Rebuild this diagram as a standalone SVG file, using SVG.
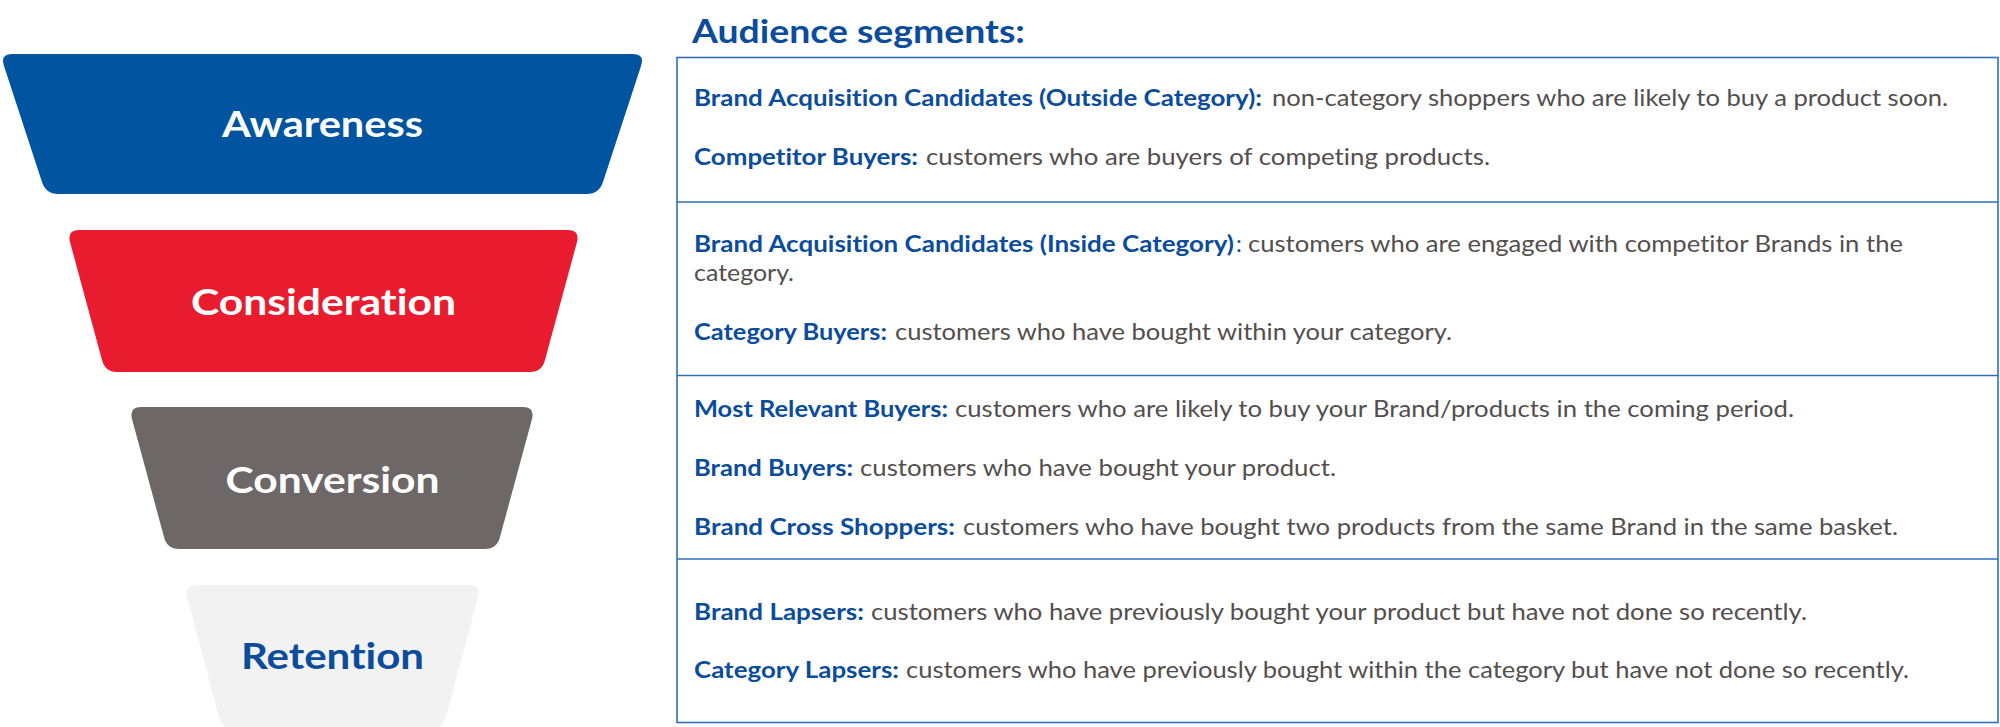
<svg xmlns="http://www.w3.org/2000/svg" width="2000" height="727" viewBox="0 0 2000 727">
<style>
text{font-variant-ligatures:none}
.lbl{font-family:Lato,"Open Sans","Liberation Sans",sans-serif;font-weight:700;font-size:37px;text-anchor:middle}
.b{font-family:Lato,"Open Sans","Liberation Sans",sans-serif;font-weight:700;font-size:23px;fill:#0b4c9c}
.r{font-family:Lato,"Open Sans","Liberation Sans",sans-serif;font-weight:400;font-size:23px;fill:#544e4e}
.rb{font-family:Lato,"Open Sans","Liberation Sans",sans-serif;font-weight:400;font-size:23px;fill:#0b4c9c}
.h{font-family:Lato,"Open Sans","Liberation Sans",sans-serif;font-weight:700;font-size:33px;fill:#0b4c9c}
.sep{stroke:#2f6fba;stroke-width:1.6;fill:none}
</style>
<rect width="2000" height="727" fill="#ffffff"/>
<g id="awareness">
<path d="M12,54 L633,54 Q645,54 641,66 L603,182 Q599,194 587,194 L58,194 Q46,194 42,182 L4,66 Q0,54 12,54 Z" fill="#0054a0"/>
<text class="lbl" x="322.5" y="137" fill="#ffffff" textLength="201" lengthAdjust="spacingAndGlyphs">Awareness</text>
</g>
<g id="consideration">
<path d="M79,230 L568,230 Q580,230 577,242 L545,360 Q542,372 530,372 L117,372 Q105,372 102,360 L70,242 Q67,230 79,230 Z" fill="#e81c2e"/>
<text class="lbl" x="323.5" y="315" fill="#ffffff" textLength="265" lengthAdjust="spacingAndGlyphs">Consideration</text>
</g>
<g id="conversion">
<path d="M141,407 L523,407 Q535,407 532,419 L500,537 Q497,549 485,549 L179,549 Q167,549 164,537 L132,419 Q129,407 141,407 Z" fill="#6e6767"/>
<text class="lbl" x="332.5" y="493" fill="#ffffff" textLength="214" lengthAdjust="spacingAndGlyphs">Conversion</text>
</g>
<g id="retention">
<path d="M196,585 L469,585 Q481,585 478,597 L446,717 Q443,729 431,729 L234,729 Q222,729 219,717 L187,597 Q184,585 196,585 Z" fill="#f2f2f2"/>
<text class="lbl" x="332.5" y="669" fill="#0b4c9c" textLength="183" lengthAdjust="spacingAndGlyphs">Retention</text>
</g>
<g id="heading">
<text class="h" x="692" y="43" textLength="333" lengthAdjust="spacingAndGlyphs">Audience segments:</text>
</g>
<g id="table-frame">
<rect class="sep" x="677" y="57.5" width="1321" height="665"/>
<line class="sep" x1="677" y1="202" x2="1998" y2="202"/>
<line class="sep" x1="677" y1="375.5" x2="1998" y2="375.5"/>
<line class="sep" x1="677" y1="559" x2="1998" y2="559"/>
</g>
<g id="row-awareness">
<text class="b" x="694" y="106" textLength="568" lengthAdjust="spacingAndGlyphs">Brand Acquisition Candidates (Outside Category):</text>
<text class="r" x="1272" y="106" textLength="676" lengthAdjust="spacingAndGlyphs">non-category shoppers who are likely to buy a product soon.</text>
<text class="b" x="694" y="165" textLength="224" lengthAdjust="spacingAndGlyphs">Competitor Buyers:</text>
<text class="r" x="926" y="165" textLength="564" lengthAdjust="spacingAndGlyphs">customers who are buyers of competing products.</text>
</g>
<g id="row-consideration">
<text class="b" x="694" y="252" textLength="540" lengthAdjust="spacingAndGlyphs">Brand Acquisition Candidates (Inside Category)</text>
<text class="rb" x="1236" y="252">:</text>
<text class="r" x="1248" y="252" textLength="655" lengthAdjust="spacingAndGlyphs">customers who are engaged with competitor Brands in the</text>
<text class="r" x="694" y="281" textLength="100" lengthAdjust="spacingAndGlyphs">category.</text>
<text class="b" x="694" y="340" textLength="193" lengthAdjust="spacingAndGlyphs">Category Buyers:</text>
<text class="r" x="895" y="340" textLength="557" lengthAdjust="spacingAndGlyphs">customers who have bought within your category.</text>
</g>
<g id="row-conversion">
<text class="b" x="694" y="417" textLength="254" lengthAdjust="spacingAndGlyphs">Most Relevant Buyers:</text>
<text class="r" x="955" y="417" textLength="839" lengthAdjust="spacingAndGlyphs">customers who are likely to buy your Brand/products in the coming period.</text>
<text class="b" x="694" y="476" textLength="159" lengthAdjust="spacingAndGlyphs">Brand Buyers:</text>
<text class="r" x="860" y="476" textLength="476" lengthAdjust="spacingAndGlyphs">customers who have bought your product.</text>
<text class="b" x="694" y="535" textLength="261" lengthAdjust="spacingAndGlyphs">Brand Cross Shoppers:</text>
<text class="r" x="963" y="535" textLength="935" lengthAdjust="spacingAndGlyphs">customers who have bought two products from the same Brand in the same basket.</text>
</g>
<g id="row-retention">
<text class="b" x="694" y="620" textLength="170" lengthAdjust="spacingAndGlyphs">Brand Lapsers:</text>
<text class="r" x="871" y="620" textLength="936" lengthAdjust="spacingAndGlyphs">customers who have previously bought your product but have not done so recently.</text>
<text class="b" x="694" y="678" textLength="205" lengthAdjust="spacingAndGlyphs">Category Lapsers:</text>
<text class="r" x="906" y="678" textLength="1003" lengthAdjust="spacingAndGlyphs">customers who have previously bought within the category but have not done so recently.</text>
</g>
</svg>
